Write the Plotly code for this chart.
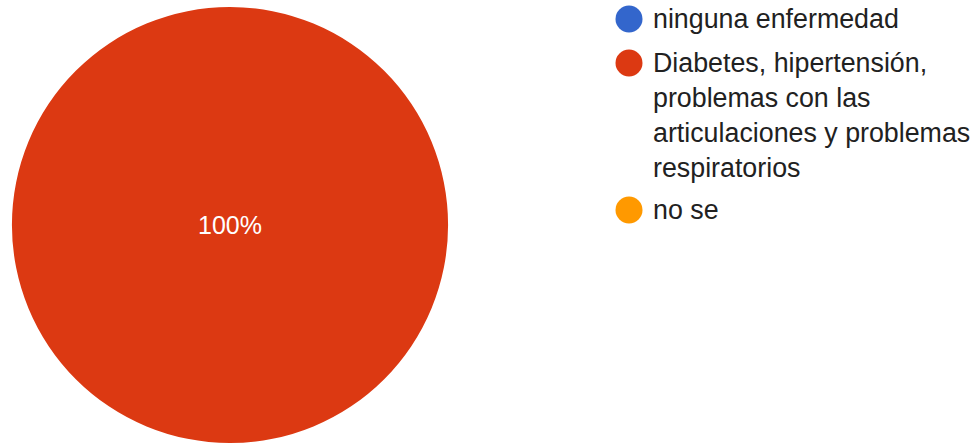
import plotly.graph_objects as go

# Survey answers and their response counts
categories = [
    "ninguna enfermedad",
    "Diabetes, hipertensión, problemas con las articulaciones y problemas respiratorios",
    "no se",
]
legend_lines = [
    ["ninguna enfermedad"],
    ["Diabetes, hipertensión,", "problemas con las", "articulaciones y problemas", "respiratorios"],
    ["no se"],
]
counts = [0, 1, 0]
colors = ["#3366cc", "#dc3912", "#ff9900"]

W, H = 979, 445
FONT = "Arial, Liberation Sans, sans-serif"

fig = go.Figure()

# Only slices with a response are drawn
shown = [i for i, v in enumerate(counts) if v > 0]
fig.add_trace(go.Pie(
    labels=[categories[i] for i in shown],
    values=[counts[i] for i in shown],
    marker=dict(colors=[colors[i] for i in shown], line=dict(width=0)),
    textinfo="percent",
    texttemplate="%{percent:.0%}",
    textposition="inside",
    insidetextfont=dict(color="white", size=25, family=FONT),
    sort=False,
    direction="clockwise",
    showlegend=False,
    hoverinfo="label+percent",
    domain=dict(x=[12 / W, 448 / W], y=[(H - 443) / H, (H - 7) / H]),
))

# Custom legend: round swatches with wrapped labels
marker_cy = [19, 63, 210]
r = 13.5
cx = 629
shapes = []
annotations = []
for i, lines in enumerate(legend_lines):
    cy = marker_cy[i]
    shapes.append(dict(
        type="circle", xref="paper", yref="paper",
        x0=(cx - r) / W, x1=(cx + r) / W,
        y0=1 - (cy + r) / H, y1=1 - (cy - r) / H,
        fillcolor=colors[i], line=dict(width=0),
    ))
    annotations.append(dict(
        xref="paper", yref="paper",
        x=652 / W, y=1 - (cy - 16) / H,
        xanchor="left", yanchor="top", align="left",
        text="<br>".join(lines), showarrow=False, borderpad=0,
        font=dict(size=26.8, color="#212121", family=FONT),
    ))

fig.update_layout(
    width=W, height=H,
    margin=dict(l=0, r=0, t=0, b=0),
    paper_bgcolor="white", plot_bgcolor="white",
    shapes=shapes, annotations=annotations,
)

fig.write_html("out.html")
